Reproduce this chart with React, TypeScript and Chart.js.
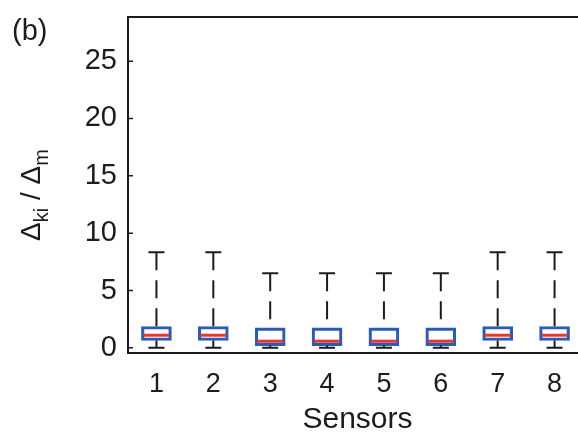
import React, { useEffect, useRef } from 'react';
import { Chart, registerables } from 'chart.js';

Chart.register(...registerables);

const sensors = ['1', '2', '3', '4', '5', '6', '7', '8'];
const whiskerLow = [0, 0, 0, 0, 0, 0, 0, 0];
const q1 = [0.64, 0.64, 0.2, 0.2, 0.2, 0.2, 0.64, 0.64];
const medians = [1.1, 1.1, 0.58, 0.58, 0.58, 0.58, 1.1, 1.1];
const q3 = [1.86, 1.86, 1.74, 1.74, 1.74, 1.74, 1.86, 1.86];
const whiskerHigh = [8.34, 8.34, 6.51, 6.51, 6.51, 6.51, 8.34, 8.34];
const yTicks = [0, 5, 10, 15, 20, 25];
const yMin = -0.45;
const yMax = 28.85;

const FONT = '"Liberation Sans", Arial, Helvetica, sans-serif';

export default function App() {
  const ref = useRef<HTMLCanvasElement>(null);

  useEffect(() => {
    const canvas = ref.current!;

    const extras = {
      id: 'boxExtras',
      afterDatasetsDraw(chart: any) {
        const { ctx, scales } = chart;
        const x = scales.x;
        const y = scales.y;
        ctx.save();
        sensors.forEach((_, i) => {
          const cx = x.getPixelForValue(i);
          const yHi = y.getPixelForValue(whiskerHigh[i]);
          const yQ3 = y.getPixelForValue(q3[i]);
          const yQ1 = y.getPixelForValue(q1[i]);
          const yLo = y.getPixelForValue(whiskerLow[i]);
          const yMed = y.getPixelForValue(medians[i]);
          ctx.strokeStyle = '#1c1c1c';
          ctx.lineWidth = 2;
          ctx.lineCap = 'butt';
          ctx.setLineDash([18, 10]);
          ctx.beginPath();
          ctx.moveTo(cx, yHi);
          ctx.lineTo(cx, yQ3);
          ctx.stroke();
          ctx.beginPath();
          ctx.moveTo(cx, yQ1);
          ctx.lineTo(cx, yLo);
          ctx.stroke();
          ctx.setLineDash([]);
          ctx.beginPath();
          ctx.moveTo(cx - 8, yHi);
          ctx.lineTo(cx + 8, yHi);
          ctx.moveTo(cx - 8, yLo);
          ctx.lineTo(cx + 8, yLo);
          ctx.stroke();
          ctx.strokeStyle = '#e8362f';
          ctx.lineWidth = 3;
          ctx.beginPath();
          ctx.moveTo(cx - 13, yMed);
          ctx.lineTo(cx + 13, yMed);
          ctx.stroke();
        });
        ctx.restore();
      },
      afterDraw(chart: any) {
        const { ctx, chartArea, scales } = chart;
        const y = scales.y;
        ctx.save();
        ctx.strokeStyle = '#1c1c1c';
        ctx.lineWidth = 2;
        ctx.strokeRect(chartArea.left, chartArea.top, chartArea.right - chartArea.left, chartArea.bottom - chartArea.top);
        ctx.lineWidth = 1.5;
        ctx.beginPath();
        yTicks.forEach((v) => {
          const py = y.getPixelForValue(v);
          ctx.moveTo(chartArea.left, py);
          ctx.lineTo(chartArea.left + 5, py);
        });
        ctx.stroke();
        ctx.fillStyle = '#1c1c1c';
        ctx.textBaseline = 'alphabetic';
        ctx.font = `30px ${FONT}`;
        ctx.textAlign = 'center';
        ctx.fillText('Sensors', (chartArea.left + chartArea.right) / 2 + 2, 428);
        ctx.textAlign = 'left';
        ctx.font = `29px ${FONT}`;
        ctx.fillText('(b)', 12, 40);
        ctx.save();
        ctx.translate(40, 195);
        ctx.rotate(-Math.PI / 2);
        const parts: [string, boolean][] = [
          ['\u0394', false],
          ['ki', true],
          [' / ', false],
          ['\u0394', false],
          ['m', true],
        ];
        const mainFont = `28px ${FONT}`;
        const subFont = `20px ${FONT}`;
        let total = 0;
        parts.forEach(([t, sub]) => {
          ctx.font = sub ? subFont : mainFont;
          total += ctx.measureText(t).width;
        });
        let px = -total / 2;
        parts.forEach(([t, sub]) => {
          ctx.font = sub ? subFont : mainFont;
          ctx.fillText(t, px, sub ? 8 : 0);
          px += ctx.measureText(t).width;
        });
        ctx.restore();
        ctx.restore();
      },
    };

    const chart = new Chart(canvas, {
      type: 'bar',
      data: {
        labels: sensors,
        datasets: [
          {
            data: sensors.map((_, i) => [q1[i], q3[i]]) as any,
            backgroundColor: 'rgba(0,0,0,0)',
            borderColor: '#2b5cb2',
            borderWidth: 2.5,
            borderSkipped: false,
            barThickness: 30,
          },
        ],
      },
      options: {
        animation: false,
        responsive: false,
        devicePixelRatio: 1,
        layout: { padding: { left: 0, right: 17, top: 17, bottom: 0 } },
        plugins: {
          legend: { display: false },
          tooltip: { enabled: false },
          title: { display: false },
        },
        scales: {
          x: {
            type: 'category',
            offset: true,
            grid: { display: false, drawTicks: false },
            border: { display: false },
            ticks: {
              color: '#1c1c1c',
              font: { family: FONT, size: 27 },
              padding: 15,
              maxRotation: 0,
            },
            afterFit: (s: any) => {
              s.height = 83;
              s.paddingLeft = 0;
              s.paddingRight = 0;
            },
          },
          y: {
            type: 'linear',
            min: yMin,
            max: yMax,
            grid: { display: false, drawTicks: false },
            border: { display: false },
            afterBuildTicks: (s: any) => {
              s.ticks = yTicks.map((v) => ({ value: v }));
            },
            ticks: {
              color: '#1c1c1c',
              font: { family: FONT, size: 29 },
              padding: 11,
            },
            afterFit: (s: any) => {
              s.width = 128;
              s.paddingTop = 0;
              s.paddingBottom = 0;
            },
          },
        },
      },
      plugins: [extras],
    });

    return () => chart.destroy();
  }, []);

  return (
    <div
      style={{
        position: 'fixed',
        left: 0,
        top: 0,
        width: 578,
        height: 436,
        overflow: 'hidden',
        background: '#fff',
      }}
    >
      <canvas ref={ref} width={600} height={436} style={{ display: 'block' }} />
    </div>
  );
}
